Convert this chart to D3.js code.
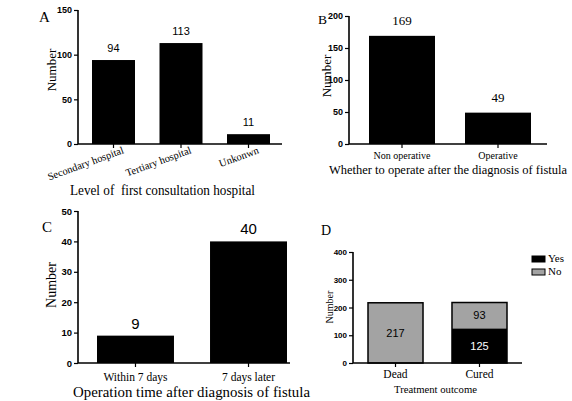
<!DOCTYPE html>
<html>
<head>
<meta charset="utf-8">
<script src="https://cdn.jsdelivr.net/npm/d3@7"></script>
<style>
  body { margin: 0; background: #fff; }
  svg { display: block; }
  .tick text { font-family: "Liberation Sans", Arial, sans-serif; font-weight: bold; }
  .serif { font-family: "Liberation Serif", "Times New Roman", serif; white-space: pre; }
  .sans { font-family: "Liberation Sans", Arial, sans-serif; }
</style>
</head>
<body>
<svg id="chart" width="572" height="401"></svg>
<script>
// panel A
const hospitalLevels = ["Secondary hospital", "Tertiary hospital", "Unkonwn"];
const hospitalCounts = [94, 113, 11];
const hospitalTicks = [0, 50, 100, 150];
// panel B
const operateGroups = ["Non operative", "Operative"];
const operateCounts = [169, 49];
const operateTicks = [0, 50, 100, 150, 200];
// panel C
const timeGroups = ["Within 7 days", "7 days later"];
const timeCounts = [9, 40];
const timeTicks = [0, 10, 20, 30, 40, 50];
// panel D
const outcomeGroups = ["Dead", "Cured"];
const fistulaKeys = ["Yes", "No"];
const yesCounts = [0, 125];
const noCounts = [217, 93];
const outcomeTicks = [0, 100, 200, 300, 400];

const svg = d3.select("#chart");

function drawAxes(g, x, y, ticks, box, tickSize) {
    const xAxis = d3.axisBottom(x).tickSize(4).tickFormat("");
    const gx = g.append("g")
        .attr("transform", `translate(0,${box.bottom})`)
        .call(xAxis);
    gx.select(".domain").attr("d", `M${box.left},0H${box.right}`).attr("stroke-width", 1.6);
    gx.selectAll(".tick line").attr("stroke-width", 1.2);

    const yAxis = d3.axisLeft(y).tickValues(ticks).tickSize(4).tickPadding(2);
    const gy = g.append("g")
        .attr("transform", `translate(${box.left},0)`)
        .call(yAxis);
    gy.select(".domain").attr("d", `M0,${y(ticks[ticks.length - 1])}V${box.bottom}`).attr("stroke-width", 1.6);
    gy.selectAll(".tick line").attr("stroke-width", 1.2);
    gy.selectAll(".tick text").style("font-size", tickSize + "px");
}

// title helper, squeezed to the width seen in the figure
function label(x, y, size, txt, len, anchor) {
    const t = svg.append("text").attr("class", "serif")
        .attr("x", x).attr("y", y)
        .attr("text-anchor", anchor || "start")
        .style("font-size", size + "px")
        .text(txt);
    if (len) t.attr("textLength", len).attr("lengthAdjust", "spacingAndGlyphs");
    return t;
}

function drawBars(cfg) {
    const g = svg.append("g");
    const box = cfg.box;
    const x = d3.scaleBand().domain(cfg.cats).range([box.x0, box.x1]).paddingInner(cfg.pad).paddingOuter(0);
    const y = d3.scaleLinear().domain([0, cfg.max]).range([box.bottom, box.top]);

    g.selectAll("rect.bar")
        .data(cfg.values)
        .enter()
        .append("rect")
        .attr("class", "bar")
        .attr("x", (d, i) => x(cfg.cats[i]))
        .attr("y", d => y(d))
        .attr("width", x.bandwidth())
        .attr("height", d => box.bottom - y(d))
        .attr("fill", "#000");

    g.selectAll("text.val")
        .data(cfg.values)
        .enter()
        .append("text")
        .attr("class", "val " + (cfg.valFont || "sans"))
        .attr("text-anchor", "middle")
        .attr("x", (d, i) => x(cfg.cats[i]) + x.bandwidth() / 2)
        .attr("y", d => y(d) - cfg.valGap)
        .style("font-size", cfg.valSize + "px")
        .text(d => d);

    drawAxes(g, x, y, cfg.ticks, box, cfg.tickSize);
    return { g, x, y };
}

// ---------- A ----------
const A = drawBars({
    cats: hospitalLevels, values: hospitalCounts, ticks: hospitalTicks, max: 150,
    box: { left: 78, right: 282, x0: 92, x1: 270, top: 10, bottom: 144 },
    pad: 0.363, valGap: 8, valSize: 11, tickSize: 9
});
A.g.selectAll("text.cat")
    .data(hospitalLevels)
    .enter()
    .append("text")
    .attr("class", "serif")
    .attr("text-anchor", "end")
    .attr("transform", d => `translate(${A.x(d) + A.x.bandwidth() / 2 + 11},${153}) rotate(-20)`)
    .style("font-size", "10.5px")
    .text(d => d);
label(39, 22, 15, "A");
svg.append("text").attr("class", "serif").attr("text-anchor", "middle")
    .attr("transform", "translate(56,70) rotate(-90)").style("font-size", "13px").text("Number");
label(70, 195, 14, "Level of  first consultation hospital", 185);

// ---------- B ----------
const B = drawBars({
    cats: operateGroups, values: operateCounts, ticks: operateTicks, max: 200,
    box: { left: 349, right: 547, x0: 369, x1: 531, top: 16, bottom: 144 },
    pad: 0.3125, valGap: 10.5, valSize: 13, valFont: "serif", tickSize: 9
});
B.g.selectAll("text.cat")
    .data(operateGroups)
    .enter()
    .append("text")
    .attr("class", "serif")
    .attr("text-anchor", "middle")
    .attr("x", d => B.x(d) + B.x.bandwidth() / 2)
    .attr("y", 159)
    .style("font-size", "10px")
    .text(d => d);
label(318, 24, 13.5, "B");
svg.append("text").attr("class", "serif").attr("text-anchor", "middle")
    .attr("transform", "translate(331,76) rotate(-90)").style("font-size", "13px").text("Number");
label(329, 174, 12.5, "Whether to operate after the diagnosis of fistula", 238);

// ---------- C ----------
const C = drawBars({
    cats: timeGroups, values: timeCounts, ticks: timeTicks, max: 50,
    box: { left: 78, right: 290, x0: 97, x1: 287, top: 211, bottom: 363 },
    pad: 0.319, valGap: 7, valSize: 15, tickSize: 9.5
});
C.g.selectAll("text.cat")
    .data(timeGroups)
    .enter()
    .append("text")
    .attr("class", "serif")
    .attr("text-anchor", "middle")
    .attr("x", d => C.x(d) + C.x.bandwidth() / 2)
    .attr("y", 381)
    .style("font-size", "11.5px")
    .text(d => d);
label(42, 232, 15, "C");
svg.append("text").attr("class", "serif").attr("text-anchor", "middle")
    .attr("transform", "translate(56,285) rotate(-90)").style("font-size", "14px").text("Number");
label(73, 397, 15.5, "Operation time after diagnosis of fistula", 237);

// ---------- D ----------
const gD = svg.append("g");
const boxD = { left: 353, right: 522, top: 252, bottom: 363 };
const xD = d3.scaleBand().domain(outcomeGroups).range([368, 507]).paddingInner(0.345).paddingOuter(0);
const yD = d3.scaleLinear().domain([0, 400]).range([boxD.bottom, boxD.top]);
const colorD = d3.scaleOrdinal().domain(fistulaKeys).range(["#000", "#a3a3a3"]);

const stackRows = outcomeGroups.map((d, i) => ({ group: d, Yes: yesCounts[i], No: noCounts[i] }));
const series = d3.stack().keys(fistulaKeys)(stackRows);

gD.selectAll("g.layer")
    .data(series)
    .enter()
    .append("g")
    .attr("class", "layer")
    .attr("fill", d => colorD(d.key))
    .selectAll("rect")
    .data(d => d.filter(p => p[1] > p[0]))
    .enter()
    .append("rect")
    .attr("x", d => xD(d.data.group))
    .attr("y", d => yD(d[1]))
    .attr("width", xD.bandwidth())
    .attr("height", d => yD(d[0]) - yD(d[1]));

// outline around each whole bar
gD.selectAll("rect.outline")
    .data(stackRows)
    .enter()
    .append("rect")
    .attr("class", "outline")
    .attr("x", d => xD(d.group))
    .attr("y", d => yD(d.Yes + d.No))
    .attr("width", xD.bandwidth())
    .attr("height", d => boxD.bottom - yD(d.Yes + d.No))
    .attr("fill", "none")
    .attr("stroke", "#000")
    .attr("stroke-width", 1.5);

gD.selectAll("g.lbl")
    .data(series)
    .enter()
    .append("g")
    .attr("class", "lbl")
    .selectAll("text")
    .data(d => d.filter(p => p[1] > p[0]).map(p => ({ p, key: d.key })))
    .enter()
    .append("text")
    .attr("class", "sans")
    .attr("text-anchor", "middle")
    .attr("x", d => xD(d.p.data.group) + xD.bandwidth() / 2)
    .attr("y", d => yD((d.p[0] + d.p[1]) / 2) + 4)
    .attr("fill", d => d.key === "Yes" ? "#fff" : "#000")
    .style("font-size", "11px")
    .text(d => d.p[1] - d.p[0]);

drawAxes(gD, xD, yD, outcomeTicks, boxD, 8);

gD.selectAll("text.cat")
    .data(outcomeGroups)
    .enter()
    .append("text")
    .attr("class", "serif")
    .attr("text-anchor", "middle")
    .attr("x", d => xD(d) + xD.bandwidth() / 2)
    .attr("y", 378)
    .style("font-size", "11.5px")
    .text(d => d);

const legend = gD.selectAll("g.legend")
    .data(fistulaKeys)
    .enter()
    .append("g")
    .attr("class", "legend")
    .attr("transform", (d, i) => `translate(532,${256 + i * 13})`);
legend.append("rect")
    .attr("width", 13).attr("height", 6)
    .attr("fill", d => colorD(d))
    .attr("stroke", "#000").attr("stroke-width", 1);
legend.append("text")
    .attr("class", "serif")
    .attr("x", 16).attr("y", 6)
    .style("font-size", "11px")
    .text(d => d);

label(321, 235, 14, "D");
svg.append("text").attr("class", "serif").attr("text-anchor", "middle")
    .attr("transform", "translate(333,307) rotate(-90)").style("font-size", "10px").text("Number");
label(394, 393, 11, "Treatment outcome", 83);
</script>
</body>
</html>
